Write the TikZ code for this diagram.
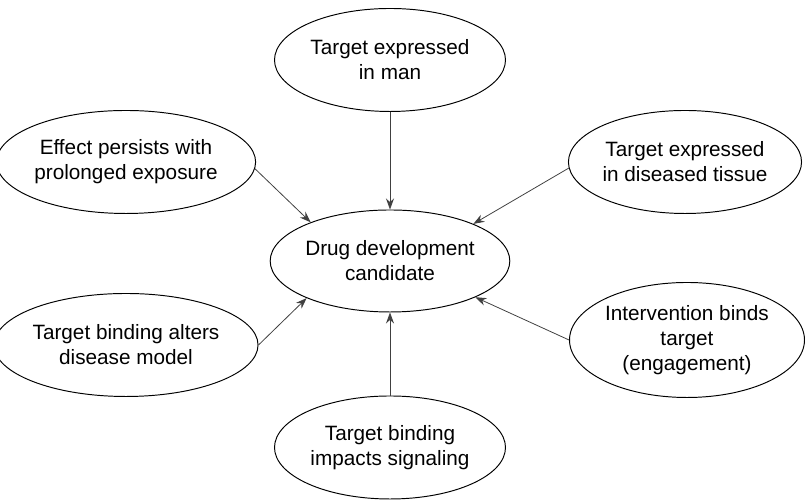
\documentclass[tikz,border=0pt]{standalone}
\usepackage{fontspec}
\setmainfont{Liberation Sans}
\usepackage{tikz}
\usetikzlibrary{arrows.meta, shapes.geometric}
\tikzset{
    ddellipse/.style={ellipse, draw, align=center, inner sep=0pt, minimum width=4.62cm, minimum height=2.06cm, line width=0.55pt},
    ddarrow/.style={-{Stealth[length=2.2mm, width=1.6mm]}, line width=0.45pt, color=black!75}
}

\begin{document}
\begin{tikzpicture}[every node/.style={font=\fontsize{11.8}{14.2}\selectfont}]
  \useasboundingbox (0,0) rectangle (16.1,10);
  \node[ddellipse, minimum width=4.54cm, minimum height=2.04cm] (cand) at (7.8,4.78)
    {Drug development\\candidate};
  \node[ddellipse] (man) at (7.8,8.8) {Target expressed\\in man};
  \node[ddellipse] (persist) at (2.52,6.76) {Effect persists with\\prolonged exposure};
  \node[ddellipse] (tissue) at (13.7,6.76) {Target expressed\\in diseased tissue};
  \node[ddellipse] (model) at (2.52,3.1) {Target binding alters\\disease model};
  \node[ddellipse, minimum width=4.7cm, minimum height=2.3cm] (engage) at (13.74,3.2)
    {Intervention binds\\target\\(engagement)};
  \node[ddellipse] (signal) at (7.8,1.05) {Target binding\\impacts signaling};
  \draw[ddarrow] (man.south) -- (cand.north);
  \draw[ddarrow] (persist.-3) -- (cand.154);
  \draw[ddarrow] (tissue.183) -- (cand.24);
  \draw[ddarrow] (model.east) -- (cand.204);
  \draw[ddarrow] (engage.west) -- (cand.337);
  \draw[ddarrow] (signal.north) -- (cand.south);
\end{tikzpicture}
\end{document}
